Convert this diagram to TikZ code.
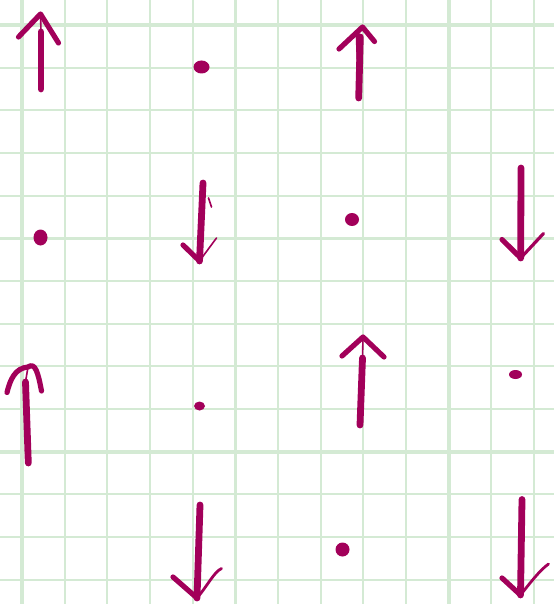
\documentclass[tikz,border=0pt]{standalone}
\usepackage{xcolor}
\usepackage{tikz}

\definecolor{gridgreen}{HTML}{D4EAD4}
\definecolor{inkred}{HTML}{A2005A}

\begin{document}
\begin{tikzpicture}[
    x=0.5pt, y=-0.5pt,
    thingrid/.style={draw=gridgreen, line width=1pt},
    thickgrid/.style={draw=gridgreen, line width=1.8pt},
    shaft/.style={draw=inkred, line width=3.4pt, line cap=round},
    head/.style={draw=inkred, line width=2.6pt, line cap=round, line join=round},
    thin/.style={draw=inkred, line width=0.8pt, line cap=round},
    spot/.style={fill=inkred}
]
\useasboundingbox (0,0) rectangle (554,604);

% grid paper
\foreach \k in {0,...,12} {
    \pgfmathsetmacro{\gx}{22+42.67*\k}
    \draw[thingrid] (\gx,0) -- (\gx,604);
}
\foreach \k in {0,...,13} {
    \pgfmathsetmacro{\gy}{25+42.67*\k}
    \draw[thingrid] (0,\gy) -- (554,\gy);
}
\foreach \k in {0,5,10} {
    \draw[thickgrid] (22+42.67*\k,0) -- (22+42.67*\k,604);
    \draw[thickgrid] (0,25+42.67*\k) -- (554,25+42.67*\k);
}

% row 1
\coordinate (upA) at (41,89);
\coordinate (upAtop) at (41,32);
\coordinate (upAtip) at (40.5,14);
\draw[shaft] (upA) -- (upAtop);
\draw[thin] (upAtop) -- (upAtip);
\draw[head] (18.5,37) -- (upAtip) -- (58.5,43);

\coordinate (dotA) at (201.5,67);
\fill[spot] (dotA) ellipse (8 and 6.5);

\coordinate (upB) at (358.7,98);
\coordinate (upBtop) at (360.3,37);
\coordinate (upBtip) at (362.5,27);
\draw[shaft] (upB) -- (upBtop);
\draw[thin] (upB) -- (356.5,37) -- (upBtip);
\draw[head] (339,49) -- (upBtip) -- (374.5,41.5);

% row 2
\coordinate (dotB) at (40.5,237.5);
\fill[spot] (dotB) ellipse (7 and 8);

\coordinate (downA) at (203,183);
\coordinate (downAtip) at (199.5,261);
\draw[shaft] (downA) -- (downAtip);
\draw[head] (183,245) -- (downAtip);
\draw[thin] (downAtip) -- (216.5,238);
\draw[thin] (208.5,198) -- (211.5,207);

\coordinate (dotC) at (352,219.5);
\fill[spot] (dotC) ellipse (7 and 6.5);

\coordinate (downB) at (521,168);
\coordinate (downBtip) at (520.7,258);
\draw[shaft] (downB) -- (downBtip);
\draw[head] (502,239.5) -- (downBtip);
\draw[head, line width=1.6pt] (downBtip) -- (543.5,233.5);

% row 3
\coordinate (upC) at (28.3,463);
\coordinate (upCtop) at (25.5,382);
\coordinate (upCtip) at (28,367);
\draw[shaft] (upC) -- (upCtop);
\draw[head] (7,392.5) .. controls (10,380) and (15,368) .. (upCtip)
    .. controls (35,362) and (38,372) .. (41.5,391);
\draw[thin] (upCtop) -- (upCtip);

\coordinate (dotD) at (199.5,406);
\fill[spot] (dotD) ellipse (5.5 and 4.5);

\coordinate (upD) at (360,425);
\coordinate (upDtop) at (362.5,358);
\coordinate (upDtip) at (363,337);
\draw[shaft] (upD) -- (upDtop);
\draw[thin] (upDtop) -- (upDtip);
\draw[head] (342,356) -- (upDtip) -- (384,357);

\coordinate (dotE) at (515.5,374.5);
\fill[spot] (dotE) ellipse (6.5 and 4.5);

% row 4
\coordinate (downC) at (200,505);
\coordinate (downCtip) at (197,598);
\draw[shaft] (downC) -- (downCtip);
\draw[head] (173,577) -- (downCtip);
\draw[head, line width=1.4pt] (downCtip) .. controls (208,585) and (214,572) .. (221.5,568.5);

\coordinate (dotF) at (342.5,549.5);
\fill[spot] (dotF) circle (7);

\coordinate (downD) at (522,499.5);
\coordinate (downDtip) at (520.5,595);
\draw[shaft] (downD) -- (downDtip);
\draw[head] (502,578) -- (downDtip);
\draw[head, line width=1.4pt] (downDtip) .. controls (530,583) and (540,570) .. (548.5,564);
\end{tikzpicture}
\end{document}
